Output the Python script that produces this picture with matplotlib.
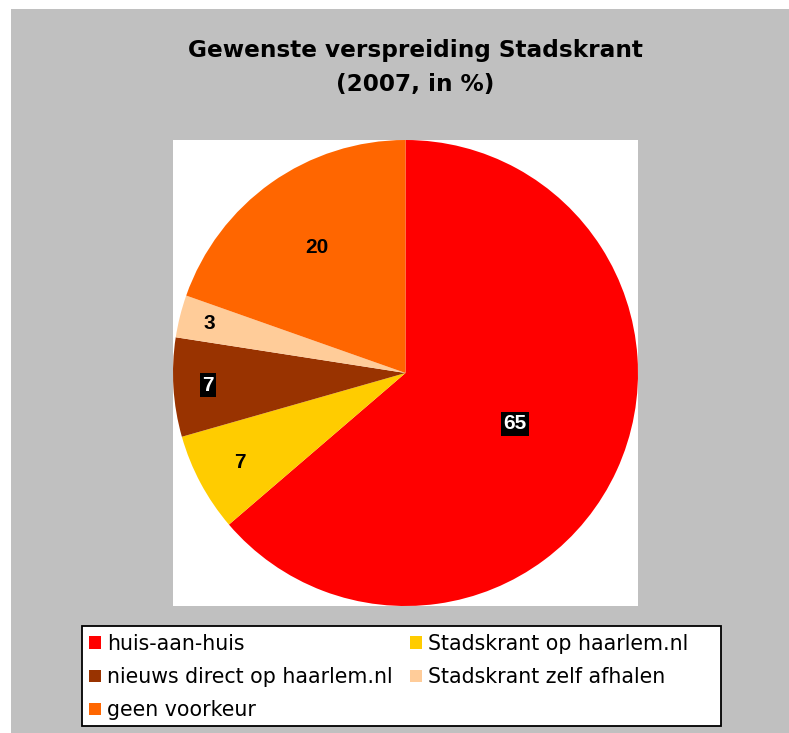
import numpy as np
import matplotlib
matplotlib.use("Agg")
import matplotlib.pyplot as plt
from matplotlib.patches import Rectangle

# data
categories = ["huis-aan-huis", "Stadskrant op haarlem.nl", "nieuws direct op haarlem.nl",
              "Stadskrant zelf afhalen", "geen voorkeur"]
values = [65, 7, 7, 3, 20]
colors = ["#FF0000", "#FFCC00", "#993300", "#FFCC99", "#FF6600"]

# label styling per slice (distance from centre as fraction of radius, boxed or not)
label_dist = [0.52, 0.81, 0.85, 0.87, 0.66]
label_boxed = [True, False, True, False, False]

BG = "#C0C0C0"
W, H = 789, 733

fig = plt.figure(figsize=(W / 100, H / 100), dpi=100)
fig.patch.set_facecolor("white")
fig.patches.append(Rectangle((11 / W, 0), 1 - 11 / W, 1 - 9 / H, transform=fig.transFigure,
                             facecolor=BG, edgecolor="none", zorder=-10))

fig.text(415 / W, 1 - 50 / H, "Gewenste verspreiding Stadskrant", ha="center", va="center",
         fontsize=16.7, fontweight="bold", color="black")
fig.text(415 / W, 1 - 84 / H, "(2007, in %)", ha="center", va="center",
         fontsize=16.7, fontweight="bold", color="black")

ax = fig.add_axes([173 / W, 1 - 606 / H, 465 / W, 466 / H])
wedges, _ = ax.pie(values, colors=colors, startangle=90, counterclock=False, radius=1.0,
                   wedgeprops=dict(linewidth=0))
ax.set_frame_on(True)
ax.set_facecolor("white")
ax.set_xlim(-1, 1)
ax.set_ylim(-1, 1)
ax.set_aspect("auto")
ax.set_xticks([])
ax.set_yticks([])
for s in ax.spines.values():
    s.set_visible(False)

for w, v, d, boxed in zip(wedges, values, label_dist, label_boxed):
    ang = np.deg2rad((w.theta1 + w.theta2) / 2)
    x, y = d * np.cos(ang), d * np.sin(ang)
    if boxed:
        ax.text(x, y, str(v), ha="center", va="center", fontsize=15, fontweight="bold",
                family="Liberation Sans", color="white",
                bbox=dict(facecolor="black", edgecolor="none", boxstyle="square,pad=0.12"))
    else:
        ax.text(x, y, str(v), ha="center", va="center", fontsize=15, fontweight="bold",
                family="Liberation Sans", color="black")

# legend box drawn separately (the original has extra room on the right)
fig.patches.append(Rectangle((82 / W, 1 - 726 / H), (721 - 82) / W, 100 / H,
                             transform=fig.transFigure, facecolor="white",
                             edgecolor="black", linewidth=1.3, zorder=1))

# legend filled column-major, so reorder to read row-wise like the original
order = [0, 2, 4, 1, 3]
leg = fig.legend([wedges[i] for i in order], [categories[i] for i in order],
                 ncol=2, loc="upper left",
                 bbox_to_anchor=(89 / W, 1 - 634 / H),
                 fontsize=14.8, frameon=False, borderaxespad=0, borderpad=0,
                 handlelength=0.58, handleheight=0.58, handletextpad=0.3,
                 labelspacing=0.64, columnspacing=0.85)
leg.set_zorder(2)

fig.savefig("out.png", dpi=100, facecolor=fig.get_facecolor())
